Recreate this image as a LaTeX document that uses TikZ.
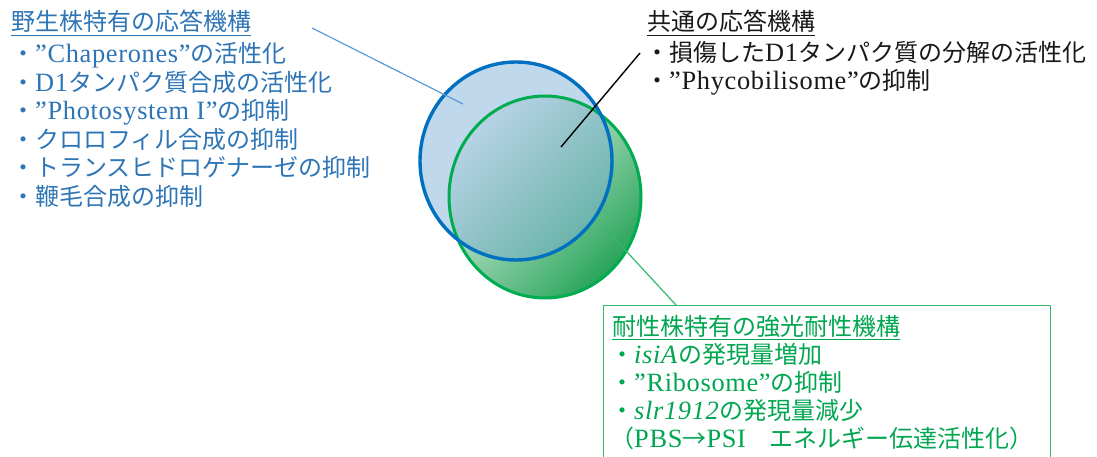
\documentclass[tikz,border=0pt]{standalone}
\usepackage{fontspec}
\setmainfont{Liberation Serif}[Scale=1.1, LetterSpace=2.5]
\newfontfamily\jp{Noto Sans CJK JP}
\usetikzlibrary{calc}
\definecolor{wtext}{RGB}{46,117,182}
\definecolor{wline}{RGB}{91,155,213}
\definecolor{bring}{RGB}{0,112,192}
\definecolor{bfill}{RGB}{129,177,217}
\definecolor{gring}{RGB}{0,172,80}
\definecolor{gtext}{RGB}{0,166,80}
\definecolor{gbox}{RGB}{50,185,105}
\definecolor{gdark}{RGB}{40,165,90}
\definecolor{glight}{RGB}{238,246,242}
\definecolor{ctext}{RGB}{25,25,25}
\begin{document}
\begin{tikzpicture}[x=1pt,y=-1pt,
  txt/.style={anchor=base west, inner sep=0pt, font=\fontsize{24}{28}\selectfont},
  uline/.style={line width=0.8pt}]
\useasboundingbox (0,0) rectangle (1097,457);
\clip (0,0) rectangle (1097,457);

% ellipses: fills
\path[shading=axis, top color=glight, bottom color=gdark, shading angle=45]
  (545,197) ellipse [x radius=96, y radius=101];
\path[fill=bfill, fill opacity=0.5] (516,161) ellipse [x radius=96, y radius=99];
% outlines
\draw[gring, line width=3pt] (545,197) ellipse [x radius=96, y radius=101];
\draw[bring, line width=3.4pt] (516,161) ellipse [x radius=96, y radius=99];

% left block (wild-type)
\node[txt, text=wtext] (w0) at (11,31) {\jp 野生株特有の応答機構};
\draw[wtext, uline] ($(w0.base west)+(0,4.5)$) -- ($(w0.base east)+(0,4.5)$);
\node[txt, text=wtext] (w1) at (11,63) {{\jp ・}”Chaperones”{\jp の活性化}};
\node[txt, text=wtext] (w2) at (11,91.5) {{\jp ・}D1{\jp タンパク質合成の活性化}};
\node[txt, text=wtext] (w3) at (11,120) {{\jp ・}”Photosystem I”{\jp の抑制}};
\node[txt, text=wtext] (w4) at (11,148.5) {\jp ・クロロフィル合成の抑制};
\node[txt, text=wtext] (w5) at (11,177) {\jp ・トランスヒドロゲナーゼの抑制};
\node[txt, text=wtext] (w6) at (11,205.5) {\jp ・鞭毛合成の抑制};

% right block (common)
\node[txt, text=ctext] (c0) at (647,31) {\jp 共通の応答機構};
\draw[ctext, uline] ($(c0.base west)+(0,4.5)$) -- ($(c0.base east)+(0,4.5)$);
\node[txt, text=ctext] (c1) at (645,61.5) {{\jp ・損傷した}D1{\jp タンパク質の分解の活性化}};
\node[txt, text=ctext] (c2) at (645,90) {{\jp ・}”Phycobilisome”{\jp の抑制}};

% green box (tolerant)
\node[draw=gbox, line width=1.2pt, anchor=north west, minimum width=447pt, minimum height=170pt, inner sep=0pt] (gb) at (603,305) {};
\node[txt, text=gtext] (g0) at (612,335) {\jp 耐性株特有の強光耐性機構};
\draw[gtext, uline] ($(g0.base west)+(0,4.5)$) -- ($(g0.base east)+(0,4.5)$);
\node[txt, text=gtext] (g1) at (610,363) {{\jp ・}\textit{isiA}{\jp の発現量増加}};
\node[txt, text=gtext] (g2) at (610,391) {{\jp ・}”Ribosome”{\jp の抑制}};
\node[txt, text=gtext] (g3) at (610,419) {{\jp ・}\textit{slr1912}{\jp の発現量減少}};
\node[txt, text=gtext] (g4) at (610,447) {{\jp （}PBS{\jp →}PSI{\jp 　エネルギー伝達活性化）}};

% connectors
\coordinate (wA) at (312,28);
\coordinate (wB) at (463,104);
\draw[wline, line width=1.2pt] (wA) -- (wB);
\coordinate (cA) at (640,53);
\coordinate (cB) at (561,147);
\draw[black, line width=1.4pt] (cA) -- (cB);
\coordinate (gA) at (603,226);
\coordinate (gB) at (676,305);
\draw[gbox, line width=1.2pt] (gA) -- (gB);
\end{tikzpicture}
\end{document}
